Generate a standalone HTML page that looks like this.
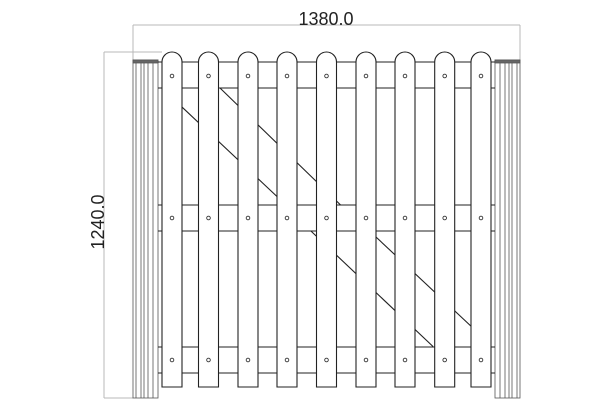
<!DOCTYPE html>
<html><head><meta charset="utf-8"><style>
html,body{margin:0;padding:0;background:#fff;}
svg{display:block;}
</style></head><body>
<svg width="610" height="410" viewBox="0 0 610 410" xmlns="http://www.w3.org/2000/svg">
<rect width="610" height="410" fill="#fff"/>
<!-- dimensions -->
<g stroke="#b8b8b8" stroke-width="1" fill="none">
<line x1="133" y1="25" x2="520" y2="25"/>
<line x1="133" y1="25" x2="133" y2="61"/>
<line x1="520" y1="25" x2="520" y2="61"/>
<line x1="104" y1="52" x2="162" y2="52"/>
<line x1="104" y1="52" x2="104" y2="398"/>
<line x1="104" y1="398" x2="133" y2="398"/>
</g>
<text x="326" y="25" font-family="Liberation Sans, sans-serif" font-size="18" text-anchor="middle" fill="#222">1380.0</text>
<text transform="translate(104,222) rotate(-90)" x="0" y="0" font-family="Liberation Sans, sans-serif" font-size="18" text-anchor="middle" fill="#222">1240.0</text>
<!-- posts -->
<g stroke="#555" stroke-width="0.8" fill="#fff">
<rect x="133" y="60" width="25" height="338"/>
<line x1="136" y1="63" x2="136" y2="398"/><line x1="141" y1="63" x2="141" y2="398"/><line x1="144" y1="63" x2="144" y2="398"/><line x1="148" y1="63" x2="148" y2="398"/><line x1="153" y1="63" x2="153" y2="398"/>
<rect x="133" y="60" width="25" height="3" fill="#666"/>
<rect x="495" y="60" width="25" height="338"/>
<line x1="500" y1="63" x2="500" y2="398"/><line x1="505" y1="63" x2="505" y2="398"/><line x1="509" y1="63" x2="509" y2="398"/><line x1="512" y1="63" x2="512" y2="398"/><line x1="517" y1="63" x2="517" y2="398"/>
<rect x="495" y="60" width="25" height="3" fill="#666"/>
</g>
<!-- braces -->
<g stroke="#222" stroke-width="1.1">
<line x1="162" y1="88.2" x2="286" y2="205"/>
<line x1="220" y1="88" x2="340.6" y2="205"/>
<line x1="310.9" y1="231" x2="433" y2="346.5"/>
<line x1="369.6" y1="231" x2="490" y2="344"/>
</g>
<!-- rails -->
<g stroke="#222" stroke-width="1.1" fill="none">
<line x1="158" y1="62" x2="495" y2="62"/><line x1="158" y1="88" x2="495" y2="88"/>
<line x1="158" y1="205" x2="495" y2="205"/><line x1="158" y1="231" x2="495" y2="231"/>
<line x1="158" y1="347" x2="495" y2="347"/><line x1="158" y1="373" x2="495" y2="373"/>
</g>
<!-- pickets -->
<g stroke="#222" stroke-width="1.1" fill="#fff">
<path d="M162,387 V62 A10,10 0 0 1 182,62 V387 Z"/>
<path d="M198.5,387 V62 A10,10 0 0 1 218.5,62 V387 Z"/>
<path d="M238,387 V62 A10,10 0 0 1 258,62 V387 Z"/>
<path d="M277,387 V62 A10,10 0 0 1 297,62 V387 Z"/>
<path d="M316.5,387 V62 A10,10 0 0 1 336.5,62 V387 Z"/>
<path d="M356,387 V62 A10,10 0 0 1 376,62 V387 Z"/>
<path d="M395,387 V62 A10,10 0 0 1 415,62 V387 Z"/>
<path d="M434.7,387 V62 A10,10 0 0 1 454.7,62 V387 Z"/>
<path d="M471,387 V62 A10,10 0 0 1 491,62 V387 Z"/>
</g>
<g stroke="#333" stroke-width="0.9" fill="#fff">
<circle cx="172" cy="76" r="1.8"/><circle cx="208.5" cy="76" r="1.8"/><circle cx="248" cy="76" r="1.8"/><circle cx="287" cy="76" r="1.8"/><circle cx="326.5" cy="76" r="1.8"/><circle cx="366" cy="76" r="1.8"/><circle cx="405" cy="76" r="1.8"/><circle cx="444.7" cy="76" r="1.8"/><circle cx="481" cy="76" r="1.8"/>
<circle cx="172" cy="218" r="1.8"/><circle cx="208.5" cy="218" r="1.8"/><circle cx="248" cy="218" r="1.8"/><circle cx="287" cy="218" r="1.8"/><circle cx="326.5" cy="218" r="1.8"/><circle cx="366" cy="218" r="1.8"/><circle cx="405" cy="218" r="1.8"/><circle cx="444.7" cy="218" r="1.8"/><circle cx="481" cy="218" r="1.8"/>
<circle cx="172" cy="360" r="1.8"/><circle cx="208.5" cy="360" r="1.8"/><circle cx="248" cy="360" r="1.8"/><circle cx="287" cy="360" r="1.8"/><circle cx="326.5" cy="360" r="1.8"/><circle cx="366" cy="360" r="1.8"/><circle cx="405" cy="360" r="1.8"/><circle cx="444.7" cy="360" r="1.8"/><circle cx="481" cy="360" r="1.8"/>
</g>
</svg>
</body></html>
